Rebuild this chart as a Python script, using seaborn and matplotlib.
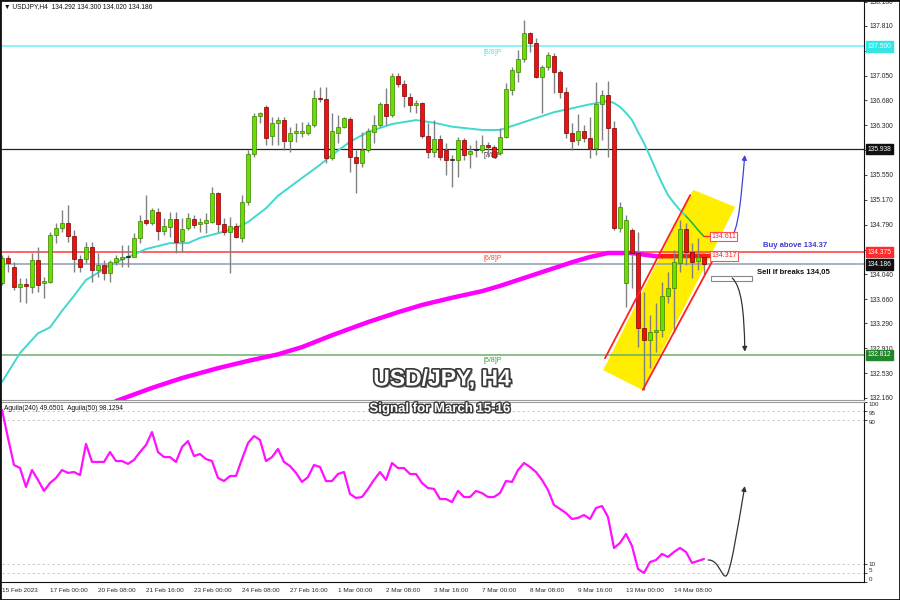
import numpy as np
import pandas as pd
import matplotlib
matplotlib.use("Agg")
import matplotlib.pyplot as plt
import matplotlib.patheffects as pe
from matplotlib.patches import Polygon, Rectangle, FancyArrowPatch
from matplotlib.path import Path
from matplotlib.transforms import blended_transform_factory
import seaborn as sns

# USDJPY H4 candles, 15 Feb 16:00 -> 15 Mar 04:00
opens = [
    133.90, 134.28, 134.15, 133.84, 133.89, 133.84, 134.25, 133.90, 133.92, 134.63,
    134.74, 134.82, 134.62, 134.27, 134.27, 134.45, 134.10, 134.18, 134.06, 134.22,
    134.27, 134.30, 134.30, 134.59, 134.86, 134.82, 134.98, 134.69, 134.76, 134.88,
    134.54, 134.74, 134.88, 134.80, 134.82, 134.83, 135.27, 134.80, 134.68, 134.77,
    134.59, 135.14, 135.86, 136.44, 136.58, 136.14, 136.34, 136.38, 136.06, 136.18,
    136.18, 136.18, 136.31, 136.72, 136.70, 135.80, 136.18, 136.28, 136.40, 135.82,
    135.73, 135.93, 136.20, 136.31, 136.62, 136.46, 137.05, 136.93, 136.73, 136.61,
    136.64, 136.14, 135.90, 136.09, 135.93, 135.78, 135.77, 136.08, 135.86, 135.93,
    135.93, 136.00, 135.97, 135.88, 136.12, 136.84, 137.11, 137.31, 137.70, 137.55,
    137.03, 137.19, 137.35, 137.11, 136.81, 136.18, 136.08, 136.21, 136.11, 135.96,
    136.62, 136.76, 136.26, 134.74, 133.90, 134.71, 134.36, 133.22, 133.04, 133.16,
    133.19, 133.71, 133.83, 134.21, 134.72, 134.38, 134.24, 134.292]
highs = [
    134.33, 134.33, 134.22, 133.98, 133.98, 134.36, 134.45, 133.99, 134.68, 134.82,
    135.01, 135.09, 134.71, 134.33, 134.53, 134.53, 134.36, 134.25, 134.25, 134.33,
    134.48, 134.48, 134.66, 134.94, 135.24, 135.04, 135.04, 134.89, 134.98, 134.98,
    134.89, 134.97, 134.94, 134.89, 134.97, 135.36, 135.29, 134.89, 134.91, 134.82,
    135.24, 135.93, 136.49, 136.50, 136.61, 136.43, 136.43, 136.43, 136.28, 136.34,
    136.35, 136.35, 136.84, 136.88, 136.88, 136.49, 136.46, 136.43, 136.43, 135.93,
    136.20, 136.26, 136.46, 136.65, 136.87, 137.10, 137.10, 136.99, 136.79, 136.69,
    136.65, 136.34, 136.38, 136.15, 136.03, 135.85, 136.12, 136.11, 136.00, 136.08,
    136.15, 136.05, 136.00, 136.26, 136.94, 137.19, 137.45, 137.90, 137.72, 137.63,
    137.22, 137.42, 137.40, 137.14, 136.88, 136.34, 136.47, 136.31, 136.43, 136.96,
    136.84, 136.97, 136.37, 135.14, 134.94, 134.74, 134.68, 133.77, 133.42, 133.60,
    133.92, 134.07, 134.41, 134.86, 134.82, 134.51, 134.59, 134.300]
lows = [
    133.87, 134.07, 133.80, 133.61, 133.60, 133.75, 133.77, 133.68, 133.90, 134.51,
    134.68, 134.53, 134.07, 134.07, 134.21, 133.92, 133.99, 133.95, 133.92, 134.18,
    134.15, 134.15, 134.30, 134.51, 134.79, 134.79, 134.56, 134.63, 134.60, 134.36,
    134.38, 134.71, 134.74, 134.68, 134.66, 134.82, 134.68, 134.63, 134.06, 134.59,
    134.53, 135.09, 135.82, 136.34, 136.00, 136.00, 136.00, 135.93, 135.90, 136.05,
    136.12, 136.15, 136.28, 136.65, 135.73, 135.77, 136.03, 136.26, 135.59, 135.27,
    135.67, 135.90, 136.03, 136.28, 136.31, 136.43, 136.88, 136.58, 136.50, 136.49,
    136.11, 135.80, 135.82, 135.77, 135.55, 135.36, 135.52, 135.77, 135.65, 135.82,
    135.88, 135.82, 135.80, 135.85, 136.11, 136.76, 136.96, 137.26, 137.42, 137.02,
    136.49, 137.14, 136.79, 136.72, 136.11, 135.93, 136.00, 136.05, 135.80, 135.85,
    136.08, 135.82, 134.71, 134.68, 133.54, 133.83, 132.93, 132.28, 132.61, 132.86,
    133.08, 133.60, 133.16, 134.07, 134.18, 133.98, 134.10, 134.020]
closes = [
    134.28, 134.21, 133.84, 133.89, 133.86, 134.25, 133.87, 133.93, 134.63, 134.74,
    134.82, 134.62, 134.27, 134.15, 134.45, 134.10, 134.18, 134.06, 134.22, 134.28,
    134.30, 134.31, 134.59, 134.85, 134.82, 135.01, 134.69, 134.77, 134.88, 134.53,
    134.72, 134.89, 134.79, 134.83, 134.86, 135.27, 134.80, 134.68, 134.77, 134.60,
    135.14, 135.86, 136.44, 136.49, 136.11, 136.34, 136.38, 136.06, 136.18, 136.21,
    136.21, 136.31, 136.72, 136.70, 135.80, 136.21, 136.28, 136.41, 135.82, 135.73,
    135.93, 136.21, 136.31, 136.62, 136.44, 137.05, 136.93, 136.75, 136.61, 136.64,
    136.14, 135.90, 136.09, 135.82, 135.77, 135.77, 136.08, 135.85, 135.91, 135.93,
    136.00, 135.97, 135.82, 136.12, 136.85, 137.14, 137.31, 137.70, 137.55, 137.03,
    137.19, 137.37, 137.11, 136.81, 136.18, 136.06, 136.21, 136.11, 135.96, 136.62,
    136.76, 136.26, 134.74, 135.06, 134.86, 134.36, 133.22, 133.04, 133.16, 133.19,
    133.71, 133.83, 134.22, 134.72, 134.38, 134.22, 134.30, 134.186]

# fast moving average (cyan), read at some bars
fast_bar = [0, 3, 6, 8, 10, 12, 14, 16, 18, 21, 24, 28, 31, 33, 36, 39, 41, 44, 46, 50,
            53, 55, 58, 61, 65, 69, 72, 75, 80, 83, 86, 89, 92, 95, 98, 101, 102, 103, 104, 105,
            106, 107, 108, 109, 110, 111, 112, 113, 114]
fast_val = [132.40, 132.84, 133.14, 133.23, 133.48, 133.71, 133.95, 134.06, 134.18, 134.30,
            134.42, 134.51, 134.51, 134.59, 134.66, 134.74, 134.83, 135.04, 135.23, 135.50,
            135.70, 135.85, 136.05, 136.20, 136.32, 136.38, 136.34, 136.28, 136.23, 136.23,
            136.32, 136.41, 136.50, 136.56, 136.62, 136.67, 136.64, 136.58, 136.49, 136.38,
            136.20, 136.03, 135.83, 135.62, 135.42, 135.24, 135.12, 135.01, 134.92]
fast_tail_bar = [114, 115, 116, 117]
fast_tail_val = [134.92, 134.82, 134.71, 134.611]

# slow moving average (magenta)
slow_bar = [19, 25, 30, 36, 41, 46, 50, 55, 61, 66, 70, 75, 80, 83, 87, 91, 95, 98, 101, 105, 109, 110]
slow_val = [132.11, 132.31, 132.46, 132.61, 132.72, 132.82, 132.93, 133.11, 133.31, 133.46, 133.57,
            133.68, 133.78, 133.86, 133.98, 134.10, 134.22, 134.30, 134.36, 134.36, 134.31, 134.31]
slow_tail_bar = [110, 117]
slow_tail_val = [134.31, 134.317]

# Aguila(240) oscillator, one value per bar
aguila = [
    95.6, 80.0, 65.0, 63.3, 52.8, 62.2, 56.7, 50.6, 55.0, 57.8,
    62.2, 60.6, 61.1, 59.4, 76.7, 66.7, 66.7, 66.7, 72.2, 67.2,
    67.2, 65.6, 67.8, 72.2, 76.1, 83.3, 72.2, 69.4, 69.4, 66.7,
    75.0, 78.3, 70.0, 71.1, 68.3, 67.2, 57.8, 56.1, 58.9, 58.9,
    68.3, 77.2, 81.1, 78.9, 67.2, 69.4, 73.9, 66.7, 64.4, 60.6,
    55.6, 58.3, 65.0, 63.9, 56.1, 56.1, 60.0, 61.1, 48.9, 46.7,
    47.2, 51.7, 56.7, 61.1, 56.7, 66.1, 63.3, 63.3, 60.0, 60.0,
    55.0, 52.2, 51.7, 46.1, 46.1, 44.4, 50.6, 47.2, 47.2, 50.6,
    49.4, 47.2, 47.2, 49.4, 56.1, 55.6, 62.2, 66.1, 63.9, 61.1,
    56.7, 51.1, 42.8, 40.6, 38.3, 35.0, 35.6, 37.2, 35.0, 41.1,
    42.2, 36.1, 18.9, 21.7, 26.7, 20.0, 7.2, 5.0, 11.1, 12.2,
    15.6, 13.9, 16.7, 18.9, 16.7, 10.6, 11.7, 12.8]

# Murrey levels and the current bid
levels = [137.500, 135.938, 134.375, 134.186, 132.812]
level_names = ["[8/8]P", "[7/8]P", "[6/8]P", "", "[5/8]P"]

price_ticks = [132.160, 132.530, 132.910, 133.290, 133.660, 134.040, 134.410, 134.790,
               135.170, 135.550, 135.930, 136.300, 136.680, 137.050, 137.430, 137.810, 138.180]
hidden_ticks = [134.410, 135.930]  # covered by the price tags
date_labels = ["15 Feb 2023", "17 Feb 00:00", "20 Feb 08:00", "21 Feb 16:00", "23 Feb 00:00",
               "24 Feb 08:00", "27 Feb 16:00", "1 Mar 00:00", "2 Mar 08:00", "3 Mar 16:00",
               "7 Mar 00:00", "8 Mar 08:00", "9 Mar 16:00", "13 Mar 00:00", "14 Mar 08:00"]

sns.set_style("white")
plt.rcParams["font.family"] = ["Liberation Sans", "DejaVu Sans"]

W, H = 900, 600
fig = plt.figure(figsize=(9, 6), dpi=100)
ax = fig.add_axes([2 / W, 1 - 400 / H, 862 / W, 400 / H])
ax2 = fig.add_axes([2 / W, 1 - 582 / H, 862 / W, 180 / H])

line_col = ["#66f2f2", "#222222", "#ff3b3b", "#8e9db0", "#6aae6a"]
tag_col = ["#33e6e6", "#111111", "#ff2a2a", "#111111", "#22862a"]
name_col = ["#55e0e0", "#333333", "#ff4444", "#000000", "#339933"]

# ---- main panel ----
ax.set_xlim(0, 862 / 6)
ax.set_ylim(132.126, 138.205)

# yellow channel
ax.add_patch(Polygon([(100.2, 132.58), (115.2, 135.32), (122.2, 135.06), (106.7, 132.28)],
                     closed=True, fc="#ffee00", ec="none", zorder=1))

for v, lc, nm, nc in zip(levels, line_col, level_names, name_col):
    ax.axhline(v, color=lc, lw=1.1 if lc != "#222222" else 0.9, zorder=2)
    if nm:
        ax.text(80.2, v - 0.04, nm, fontsize=5, color=nc, ha="left", va="top", zorder=2)

df = pd.DataFrame({"bar": np.arange(len(opens)), "open": opens, "high": highs,
                   "low": lows, "close": closes})
df["up"] = df["close"] >= df["open"]
df["doji"] = (df["close"] - df["open"]).abs() < 0.015
body_lo = df[["open", "close"]].min(axis=1)
body_h = (df["close"] - df["open"]).abs().clip(lower=0.012)
face = np.where(df["doji"], "#222222", np.where(df["up"], "#66e000", "#ee1111"))
edge = np.where(df["doji"], "#222222", np.where(df["up"], "#3d7f00", "#7a0000"))

fast = pd.DataFrame({"bar": fast_bar, "price": fast_val})
fast_t = pd.DataFrame({"bar": fast_tail_bar, "price": fast_tail_val})
slow = pd.DataFrame({"bar": slow_bar, "price": slow_val})
slow_t = pd.DataFrame({"bar": slow_tail_bar, "price": slow_tail_val})

sns.lineplot(data=slow, x="bar", y="price", ax=ax, color="#ff00ff", lw=3.2, zorder=2.5, legend=False)
sns.lineplot(data=slow_t, x="bar", y="price", ax=ax, color="#ff1a1a", lw=3.2, zorder=2.6, legend=False)
sns.lineplot(data=fast, x="bar", y="price", ax=ax, color="#3fd9cf", lw=1.4, zorder=2.7, legend=False)
sns.lineplot(data=fast_t, x="bar", y="price", ax=ax, color="#22bb44", lw=1.2, zorder=2.7, legend=False)
ax.plot([117, 118.2], [134.611, 134.611], color="#ff3030", lw=1, zorder=2.7)
ax.plot([117, 118.2], [134.317, 134.317], color="#ff1a1a", lw=3, zorder=2.7)

ax.vlines(df["bar"], df["low"], df["high"], color="#808080", lw=1.0, zorder=3)
ax.bar(df["bar"], body_h, bottom=body_lo, width=0.62, color=face, edgecolor=edge,
       linewidth=0.5, zorder=4)

# channel borders
ax.plot([100.5, 114.7], [132.76, 135.24], color="#ff2020", lw=1.3, zorder=6)
ax.plot([106.8, 118.3], [132.28, 134.22], color="#ff2020", lw=1.3, zorder=6)

for v in [134.611, 134.317]:
    ax.text(118.2, v, f"{v:.3f}", fontsize=5, color="#ff2020", ha="left", va="center", zorder=8,
            bbox=dict(boxstyle="square,pad=0.2", fc="white", ec="#ff5050", lw=0.8))

# scenario arrows
buy_path = Path([(120.2, 134.54), (122.6, 134.5), (123.0, 135.0), (123.8, 135.85)],
                [Path.MOVETO, Path.CURVE4, Path.CURVE4, Path.CURVE4])
ax.add_patch(FancyArrowPatch(path=buy_path, arrowstyle="-|>", mutation_scale=7,
                             color="#4040e0", lw=0.9, zorder=7))
ax.add_patch(Rectangle((118.2, 133.93), 6.8, 0.08, fc="white", ec="#888888", lw=0.8, zorder=7))
sell_path = Path([(121.7, 133.98), (123.2, 133.85), (123.7, 133.5), (123.8, 132.86)],
                 [Path.MOVETO, Path.CURVE4, Path.CURVE4, Path.CURVE4])
ax.add_patch(FancyArrowPatch(path=sell_path, arrowstyle="-|>", mutation_scale=7,
                             color="#333333", lw=0.9, zorder=7))
ax.text(126.8, 134.48, "Buy above 134.37", fontsize=5.5, fontweight="bold", color="#3a3acc",
        ha="left", va="center", zorder=8)
ax.text(125.8, 134.06, "Sell if breaks 134,05", fontsize=5.5, fontweight="bold", color="#111111",
        ha="left", va="center", zorder=8)

ax.yaxis.tick_right()
ax.set_yticks(price_ticks)
ax.set_yticklabels(["" if t in hidden_ticks else f"{t:.3f}" for t in price_ticks])
ax.tick_params(axis="y", direction="out", length=2.5, width=0.6, pad=1.5, labelsize=4.8,
               right=True, left=False)
ax.set_xticks([])
ax.set_xlabel("")
ax.set_ylabel("")
for s in ["left", "top"]:
    ax.spines[s].set_visible(False)
ax.spines["right"].set_color("#111111")
ax.spines["bottom"].set_color("#9a9a9a")

tr = blended_transform_factory(ax.transAxes, ax.transData)
for v, tc in zip(levels, tag_col):
    ax.text(1.004, v, f"{v:.3f}", transform=tr, fontsize=4.8, color="white", ha="left",
            va="center", zorder=10, clip_on=False,
            bbox=dict(boxstyle="square,pad=0.25", fc=tc, ec=tc))

# ---- oscillator panel ----
osc = pd.DataFrame({"bar": np.arange(len(aguila)), "value": aguila})
ax2.set_xlim(0, 862 / 6)
ax2.set_ylim(0, 100)
for g in [5, 10, 90, 95]:
    ax2.axhline(g, color="#c4c4c4", lw=0.6, ls=(0, (3, 3)), zorder=1)
sns.lineplot(data=osc, x="bar", y="value", ax=ax2, color="#ff10ff", lw=1.6, legend=False)
osc_path = Path([(117.7, 12.2), (119.4, 12.6), (119.9, 3.0), (120.6, 3.3),
                 (121.4, 3.5), (122.6, 30.0), (123.8, 53.3)],
                [Path.MOVETO, Path.CURVE4, Path.CURVE4, Path.CURVE4,
                 Path.CURVE4, Path.CURVE4, Path.CURVE4])
ax2.add_patch(FancyArrowPatch(path=osc_path, arrowstyle="-|>", mutation_scale=7,
                              color="#333333", lw=0.9, zorder=5))

ax2.yaxis.tick_right()
ax2.set_yticks([0, 5, 10, 90, 95, 100])
ax2.set_yticklabels(["0", "5", "10", "90", "95", "100"])
ax2.tick_params(axis="y", direction="out", length=2, width=0.6, pad=1.5, labelsize=4.5)
for lbl, va in zip(ax2.get_yticklabels(), ["bottom", "bottom", "center", "top", "top", "top"]):
    lbl.set_va(va)
ax2.set_xticks(np.arange(0, 113, 8))
ax2.set_xticklabels(date_labels)
ax2.tick_params(axis="x", direction="out", length=3, width=0.6, pad=1.5, labelsize=4.6)
for lbl in ax2.get_xticklabels():
    lbl.set_ha("left")
ax2.set_xlabel("")
ax2.set_ylabel("")
ax2.spines["left"].set_visible(False)
ax2.spines["top"].set_color("#9a9a9a")
ax2.spines["right"].set_color("#111111")
ax2.spines["bottom"].set_color("#111111")

# ---- headers and titles ----
fig.text(4 / W, 1 - 7 / H, "\u25bc USDJPY,H4  134.292 134.300 134.020 134.186", fontsize=4.8,
         color="#111111", ha="left", va="center")
fig.text(4 / W, 1 - 408 / H, "Aguila(240) 49.6501  Aguila(50) 98.1294", fontsize=4.8,
         color="#111111", ha="left", va="center")
title_fx = [pe.SimplePatchShadow(offset=(1.5, -1.5), shadow_rgbFace="#666666", alpha=0.9),
            pe.withStroke(linewidth=2.5, foreground="#3a3a3a")]
fig.text(442 / W, 1 - 379 / H, "USD/JPY, H4", fontsize=16.5, fontweight="bold", color="white",
         ha="center", va="center", path_effects=title_fx, zorder=20)
fig.text(440 / W, 1 - 409 / H, "Signal for March 15-16", fontsize=9.5, fontweight="bold",
         color="white", ha="center", va="center",
         path_effects=[pe.SimplePatchShadow(offset=(1, -1), shadow_rgbFace="#666666", alpha=0.9),
                       pe.withStroke(linewidth=2, foreground="#3a3a3a")], zorder=20)

fig.patches.append(Rectangle((0, 0), 1, 1, transform=fig.transFigure, fill=False,
                             ec="#111111", lw=2))

fig.savefig("out.png", dpi=100)
